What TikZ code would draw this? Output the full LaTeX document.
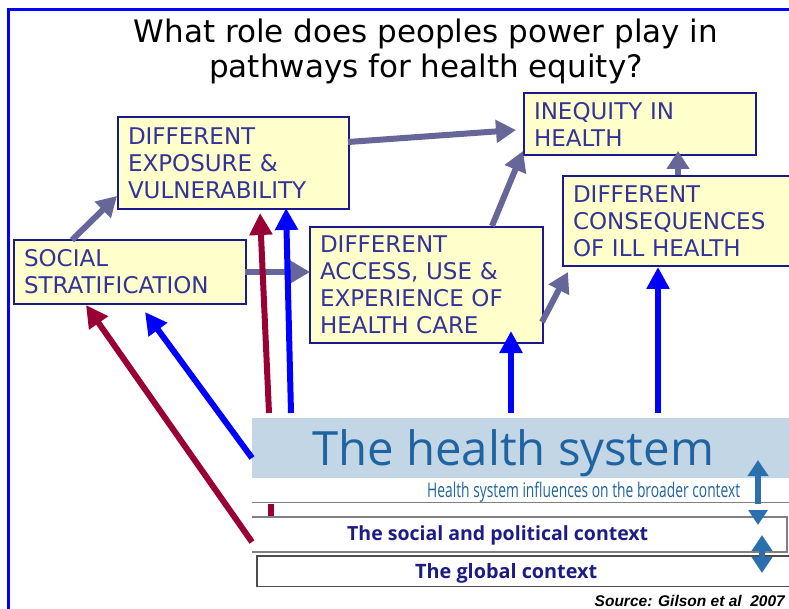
\documentclass[tikz,border=0pt]{standalone}
\usepackage{fontspec}
\usepackage{graphicx}
\usetikzlibrary{arrows.meta,calc}
\setmainfont{DejaVu Sans}
\newfontfamily\osans{Open Sans}
\newfontfamily\lsans{Liberation Sans}
\definecolor{boxfill}{HTML}{FFFFCC}
\definecolor{boxdraw}{HTML}{1A1A8C}
\definecolor{boxtext}{HTML}{333399}
\definecolor{greyarr}{HTML}{666699}
\definecolor{redarr}{HTML}{990033}
\definecolor{bluearr}{HTML}{0000FF}
\definecolor{hsband}{HTML}{C3D6E6}
\definecolor{hstext}{HTML}{1F64A0}
\definecolor{ctxtext}{HTML}{1C1C84}
\definecolor{dblarr}{HTML}{2A6FAE}
\definecolor{lineg}{HTML}{808080}
\tikzset{
  ybox/.style={draw=boxdraw, line width=2pt, fill=boxfill, text=boxtext,
    anchor=north west, align=left, inner xsep=10pt, inner ysep=0pt,
    font=\fontsize{23}{27}\selectfont},
  garrow/.style={draw=greyarr, line width=6pt, -{Triangle[width=22pt,length=20pt]}},
  rarrow/.style={draw=redarr, line width=6pt, -{Triangle[width=22pt,length=22pt]}},
  barrow/.style={draw=bluearr, line width=6pt, -{Triangle[width=22pt,length=22pt]}},
  darrow/.style={draw=dblarr, line width=6pt, {Triangle[width=20pt,length=16pt]}-{Triangle[width=20pt,length=16pt]}},
  txt/.style={inner sep=0pt, anchor=base west},
}
\begin{document}
\begin{tikzpicture}[x=1pt,y=-1pt]
\useasboundingbox (0,0) rectangle (789,609);
\fill[white] (0,0) rectangle (789,609);
% frame
\draw[bluearr, line width=3pt] (8,609) -- (8,10) -- (792,10);
% title
\node[align=center, font=\fontsize{31}{35}\selectfont, inner sep=0pt, anchor=north] (title) at (426,18.5) {What role does peoples power play in\\pathways for health equity?};

% health system band and context boxes
\fill[hsband] (252,418) rectangle (792,478);
\node[txt, text=hstext] (hs) at (312,465) {\resizebox{402pt}{!}{\osans The health system}};
\node[txt, text=hstext] (hsinf) at (427,497) {\resizebox{313pt}{15.5pt}{\osans Health system influences on the broader context}};
\draw[lineg, line width=1.5pt] (252,502.5) -- (792,502.5);
\draw[lineg, line width=1.5pt] (252,517) -- (787,517) -- (787,552) -- (252,552);
\draw[black!70, line width=1.5pt] (792,556) -- (257,556) -- (257,586.5) -- (792,586.5);
\node[txt, text=ctxtext] (spc) at (347,540) {\resizebox{301pt}{!}{\osans\bfseries The social and political context}};
\node[txt, text=ctxtext] (gc) at (415,578) {\resizebox{182pt}{!}{\osans\bfseries The global context}};
% double arrows
\coordinate (da1t) at (758,460);
\coordinate (da1b) at (758,525);
\coordinate (da2t) at (762,535);
\coordinate (da2b) at (762,573);
\draw[darrow] (da1b) -- (da1t);
\fill[white] (745,504) rectangle (775,509.5);
\draw[darrow] (da2b) -- (da2t);
% red stub
\draw[redarr, line width=6pt] (271,503.5) -- (271,516);

% boxes
\node[ybox, minimum width=231pt, minimum height=92pt, text width=211pt] (exp) at (117,116) {DIFFERENT\\EXPOSURE \&\\VULNERABILITY};
\node[ybox, minimum width=232pt, minimum height=64pt, text width=212pt] (soc) at (13,239) {SOCIAL\\STRATIFICATION};
\node[ybox, minimum width=233pt, minimum height=116pt, text width=213pt] (acc) at (309,226) {DIFFERENT\\ACCESS, USE \&\\EXPERIENCE OF\\HEALTH CARE};
\node[ybox, minimum width=232pt, minimum height=62pt, text width=212pt] (ineq) at (523,92) {INEQUITY IN\\HEALTH};
\node[ybox, minimum width=235pt, minimum height=90pt, text width=215pt] (cons) at (562,175) {DIFFERENT\\CONSEQUENCES\\OF ILL HEALTH};

% grey arrows
\coordinate (g1s) at (72,240);   \coordinate (g1e) at (117,196);
\coordinate (g2s) at (348,142);  \coordinate (g2e) at (516,130);
\coordinate (g3s) at (245,272);  \coordinate (g3e) at (310,272);
\coordinate (g4s) at (492,226);  \coordinate (g4e) at (523,151);
\coordinate (g5s) at (542,322);  \coordinate (g5e) at (568,272);
\coordinate (g6s) at (678,175);  \coordinate (g6e) at (678,151);
\draw[garrow] (g1s) -- (g1e);
\draw[garrow] (g2s) -- (g2e);
\draw[garrow] (g3s) -- (g3e);
\draw[garrow] (g4s) -- (g4e);
\draw[garrow] (g5s) -- (g5e);
\draw[greyarr, line width=6pt, -{Triangle[width=22pt,length=18pt]}] (g6s) -- (g6e);

% red and blue arrows from the health system
\coordinate (r1s) at (269,413);  \coordinate (r1e) at (260,213);
\coordinate (b1s) at (291,413);  \coordinate (b1e) at (286,208);
\coordinate (b2s) at (511,413);  \coordinate (b2e) at (511,331);
\coordinate (b3s) at (658,413);  \coordinate (b3e) at (658,267);
\coordinate (b4s) at (252,458);  \coordinate (b4e) at (145,312);
\coordinate (r2s) at (252,542);  \coordinate (r2e) at (86,305);
\draw[rarrow] (r1s) -- (r1e);
\draw[barrow] (b1s) -- (b1e);
\draw[barrow] (b2s) -- (b2e);
\draw[barrow] (b3s) -- (b3e);
\draw[barrow] (b4s) -- (b4e);
\draw[rarrow] (r2s) -- (r2e);

% source
\node[inner sep=0pt, anchor=base east, font=\lsans\bfseries\itshape\fontsize{15.5}{18}\selectfont] (src) at (785,606) {Source: Gilson et al\ \ 2007};
\end{tikzpicture}
\end{document}
